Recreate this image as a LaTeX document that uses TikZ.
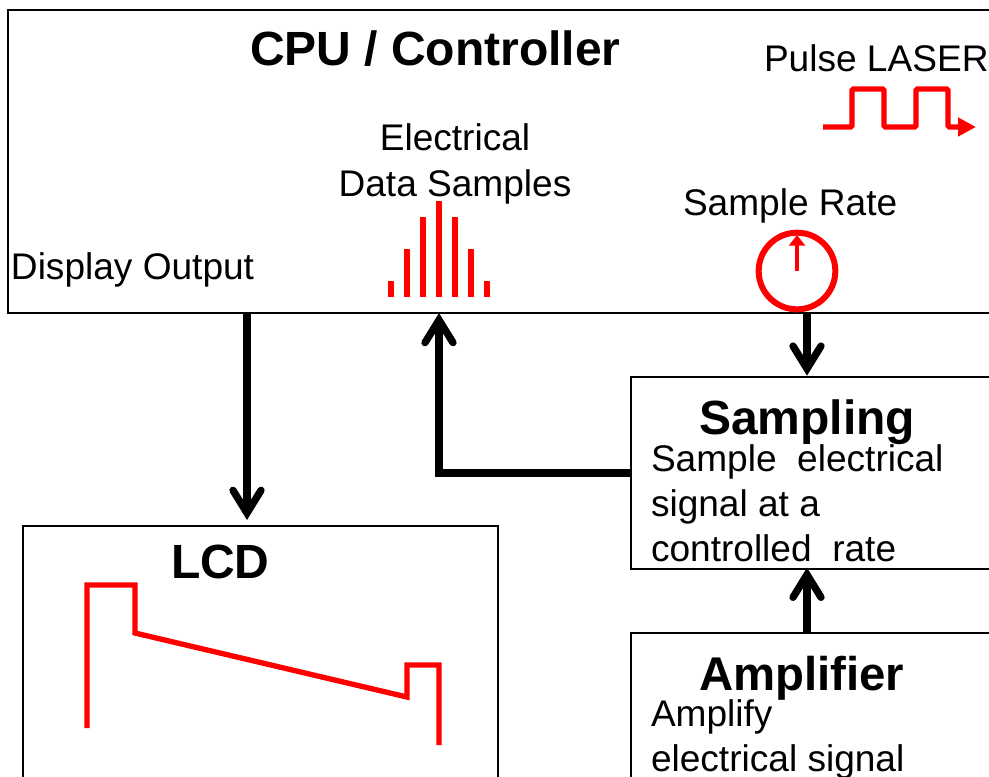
\documentclass[tikz,border=0pt]{standalone}
\usepackage{fontspec}
\setmainfont{Liberation Sans}
\usetikzlibrary{arrows.meta}
\tikzstyle{every node}=[inner sep=0pt, outer sep=0pt]
\tikzstyle{panel}=[draw=black, line width=1.5pt, fill=white, anchor=north west]
\tikzstyle{heading}=[anchor=base west, font=\fontsize{36}{40}\selectfont\bfseries]
\tikzstyle{caption}=[anchor=base west, align=left, font=\fontsize{27.8}{33.4}\selectfont]
\tikzstyle{bus}=[draw=black, line width=5.5pt, line join=miter, -{Straight Barb[length=17pt, width=21pt, line width=5.5pt, line cap=round, line join=miter]}]
\tikzstyle{trace}=[draw=red, line width=4pt]

\begin{document}
\begin{tikzpicture}[x=0.75pt, y=-0.75pt]
    \useasboundingbox (0,0) rectangle (989,776);
    \clip (0,0) rectangle (989,776);

    % Boxes, the right and lower ones run off the page
    \node[panel, minimum width=744pt, minimum height=227.25pt] (cpu) at (8,10) {};
    \node[panel, minimum width=276.75pt, minimum height=144pt] (sampling) at (631,377) {};
    \node[panel, minimum width=276.75pt, minimum height=125pt] (amplifier) at (631,633) {};
    \node[panel, minimum width=356.25pt, minimum height=205.5pt] (lcd) at (23,526) {};

    % Places where the buses leave the boxes
    \coordinate (displaytap) at (247,313);
    \coordinate (sampletap) at (439,313);
    \coordinate (ratetap) at (807,313);

    % CPU box
    \node[heading] (cputitle) at (250,65) {CPU / Controller};
    \node[caption] (lasertext) at (764,71) {Pulse LASER};
    \node[caption, anchor=base] (datatext) at (455,150) {Electrical};
    \node[caption, anchor=base] (datatext2) at (455,196) {Data Samples};
    \node[caption] (ratetext) at (683,215) {Sample Rate};
    \node[caption] (displaytext) at (11,279) {Display Output};

    % Pulse train
    \draw[trace, rounded corners=1pt, -{Triangle[length=13.5pt, width=13.5pt]}] (823,127) -- (852,127) -- (852,89) -- (884,89) -- (884,127)
        -- (916,127) -- (916,89) -- (948,89) -- (948,127) -- (976,127);

    % Data samples
    \foreach \x/\top in {391/281, 407/249, 423/217, 439/201, 455/217, 471/249, 487/281} {
        \fill[red] (\x-3,\top) rectangle (\x+3,297);
    }

    % Sample rate dial
    \node[circle, draw=red, line width=4.5pt, minimum size=57.5pt] (dial) at (797,271) {};
    \draw[red, line width=3pt, -{Triangle[length=8pt, width=12pt]}] (dial.center) -- (797,235);

    % Sampling box
    \node[heading] (samplingtitle) at (699,434) {Sampling};
    \node[caption] (samplingtext) at (651,561) {Sample\ \ electrical\\signal at a\\controlled\ \ rate};

    % Amplifier box
    \node[heading, font=\fontsize{35.5}{40}\selectfont\bfseries] (amplifiertitle) at (699,690) {Amplifier};
    \node[caption] (amplifiertext) at (651,771) {Amplify\\electrical signal};

    % LCD box
    \node[heading] (lcdtitle) at (171,578) {LCD};
    \draw[trace, line join=miter] (87,728) -- (87,585) -- (135,585) -- (135,633) -- (407,697) -- (407,665) -- (439,665) -- (439,745);

    % Buses
    \draw[bus, shorten >=4.5pt] (displaytap) -- (displaytap |- lcd.north);
    \draw[bus] (sampling.west) -| (sampletap);
    \draw[bus, shorten >=1pt] (ratetap) -- (ratetap |- sampling.north);
    \draw[bus, shorten >=-1pt] (ratetap |- amplifier.north) -- (ratetap |- sampling.south);

\end{tikzpicture}
\end{document}
